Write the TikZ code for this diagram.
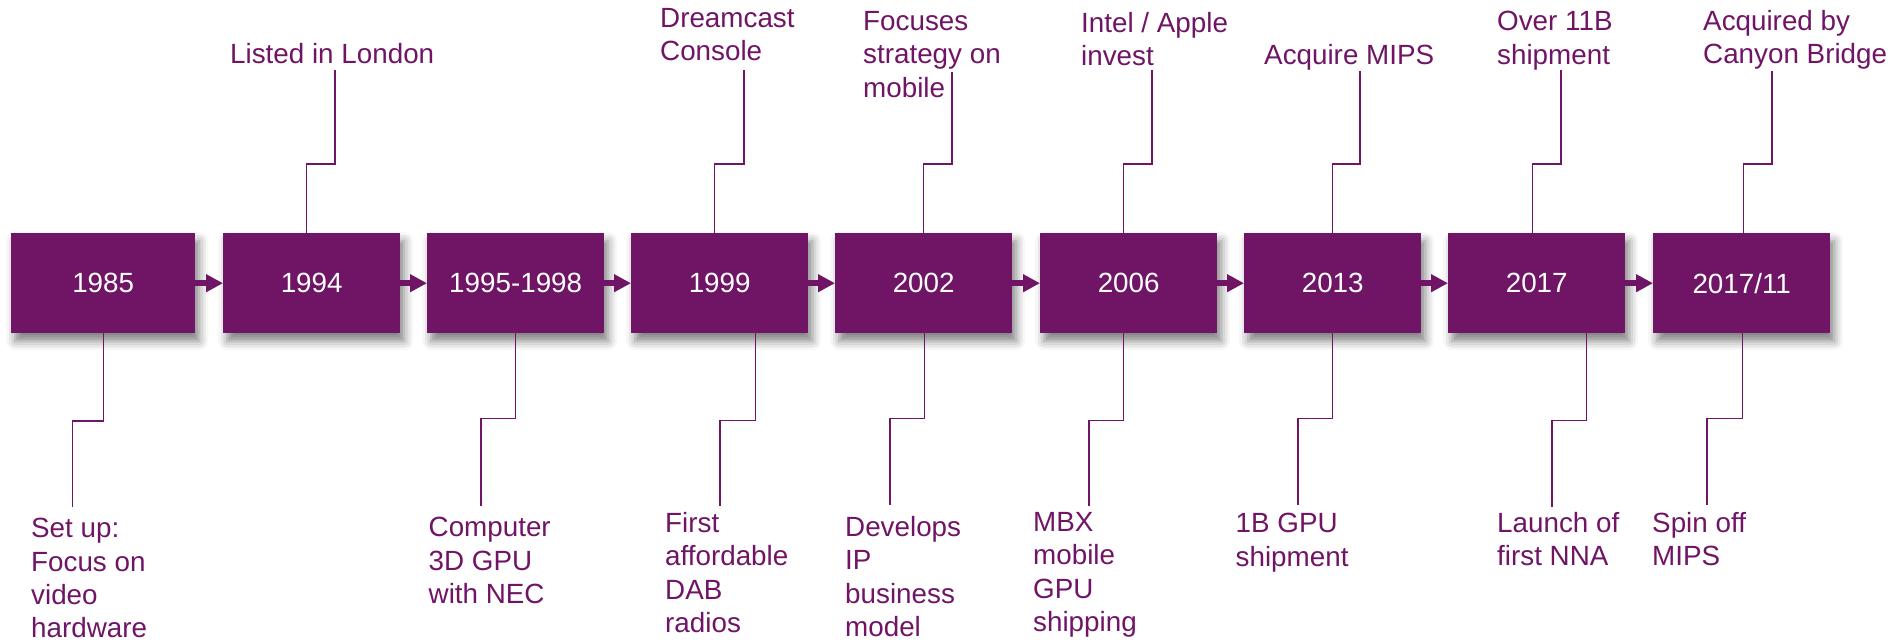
\documentclass[tikz,border=0pt]{standalone}
\usepackage{fontspec}
\setmainfont{Liberation Sans}
\usetikzlibrary{arrows.meta,shadows.blur}
\definecolor{imgpurple}{RGB}{112,21,102}
\begin{document}
\begin{tikzpicture}[x=1pt,y=-1pt,
  yearbox/.style={fill=imgpurple, text=white, anchor=north west, inner sep=0pt,
    minimum height=100pt, minimum width=177pt, font=\fontsize{27.8}{33.4}\selectfont,
    blur shadow={shadow xshift=4pt, shadow yshift=-8pt, shadow blur radius=9pt, shadow opacity=50}},
  lbl/.style={anchor=north west, inner sep=0pt, align=left, text=imgpurple,
    font=\fontsize{27.8}{33.4}\selectfont},
  conn/.style={draw=imgpurple, line width=1.3pt},
  flow/.style={draw=imgpurple, line width=6.5pt, -{Triangle[length=17pt,width=17pt]}}]
\useasboundingbox (0,0) rectangle (1890,644);

% year boxes
\node[yearbox, minimum width=184pt] (y1) at (11,233) {1985};
\node[yearbox] (y2) at (223,233) {1994};
\node[yearbox] (y3) at (427,233) {1995-1998};
\node[yearbox] (y4) at (631,233) {1999};
\node[yearbox] (y5) at (835,233) {2002};
\node[yearbox] (y6) at (1040,233) {2006};
\node[yearbox] (y7) at (1244,233) {2013};
\node[yearbox] (y8) at (1448,233) {2017};
\node[yearbox] (y9) at (1653,233) {2017/11};

% flow arrows
\draw[flow] (y1.east) -- (y2.west);
\draw[flow] (y2.east) -- (y3.west);
\draw[flow] (y3.east) -- (y4.west);
\draw[flow] (y4.east) -- (y5.west);
\draw[flow] (y5.east) -- (y6.west);
\draw[flow] (y6.east) -- (y7.west);
\draw[flow] (y7.east) -- (y8.west);
\draw[flow] (y8.east) -- (y9.west);

% top labels
\node[lbl] (t2) at (230,43) {Listed in London};
\node[lbl] (t4) at (660,8) {Dreamcast\\Console};
\node[lbl] (t5) at (863,11) {Focuses\\strategy on\\mobile};
\node[lbl] (t6) at (1081,12) {Intel / Apple\\invest};
\node[lbl] (t7) at (1264,44) {Acquire MIPS};
\node[lbl] (t8) at (1497,11) {Over 11B\\shipment};
\node[lbl] (t9) at (1703,10) {Acquired by\\Canyon Bridge};

% bottom labels
\node[lbl] (b1) at (31,518) {Set up:\\Focus on\\video\\hardware};
\node[lbl] (b3) at (428.5,517) {Computer\\3D GPU\\with NEC};
\node[lbl] (b4) at (665,512) {First\\affordable\\DAB\\radios};
\node[lbl] (b5) at (845,516) {Develops\\IP\\business\\model};
\node[lbl] (b6) at (1033,512) {MBX\\mobile\\GPU\\shipping};
\node[lbl] (b7) at (1235.5,513) {1B GPU\\shipment};
\node[lbl] (b8) at (1497,512) {Launch of\\first NNA};
\node[lbl] (b9) at (1652,512) {Spin off\\MIPS};

% connector ends
\coordinate (e2) at (335,70);
\coordinate (e4) at (744,70);
\coordinate (e5) at (952,72);
\coordinate (e6) at (1152,70);
\coordinate (e7) at (1360,71);
\coordinate (e8) at (1561,70);
\coordinate (e9) at (1772,71);
\coordinate (f1) at (72.5,507);
\coordinate (f3) at (481,506);
\coordinate (f4) at (720,506);
\coordinate (f5) at (890,505);
\coordinate (f6) at (1089,506);
\coordinate (f7) at (1298,505);
\coordinate (f8) at (1552,507);
\coordinate (f9) at (1707,505);

% up connectors
\draw[conn] ([xshift=-5.5pt]y2.north) -- ++(0,-69) -| (e2);
\draw[conn] ([xshift=-5pt]y4.north) -- ++(0,-69) -| (e4);
\draw[conn] ([xshift=-0.5pt]y5.north) -- ++(0,-69) -| (e5);
\draw[conn] ([xshift=-5.5pt]y6.north) -- ++(0,-69) -| (e6);
\draw[conn] ([xshift=-0.5pt]y7.north) -- ++(0,-69) -| (e7);
\draw[conn] ([xshift=-4.5pt]y8.north) -- ++(0,-69) -| (e8);
\draw[conn] ([xshift=1.5pt]y9.north) -- ++(0,-69) -| (e9);

% down connectors
\draw[conn] (y1.south) -- ++(0,87.5) -| (f1);
\draw[conn] ([xshift=-0.5pt]y3.south) -- ++(0,85) -| (f3);
\draw[conn] ([xshift=35.5pt]y4.south) -- ++(0,87) -| (f4);
\draw[conn] ([xshift=0.5pt]y5.south) -- ++(0,85) -| (f5);
\draw[conn] ([xshift=-5.5pt]y6.south) -- ++(0,87) -| (f6);
\draw[conn] ([xshift=-0.5pt]y7.south) -- ++(0,85) -| (f7);
\draw[conn] ([xshift=49.5pt]y8.south) -- ++(0,87) -| (f8);
\draw[conn] ([xshift=0.5pt]y9.south) -- ++(0,85) -| (f9);
\end{tikzpicture}
\end{document}
